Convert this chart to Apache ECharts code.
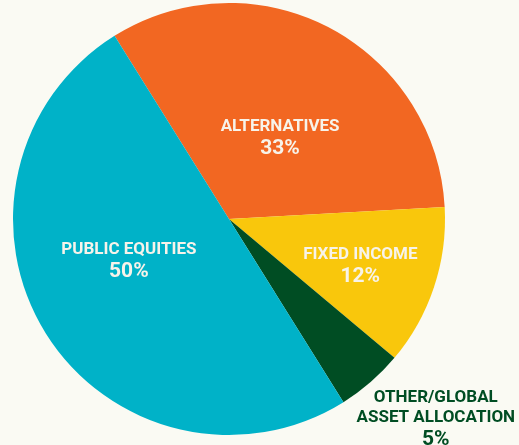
<!DOCTYPE html>
<html>
<head>
<meta charset="utf-8">
<script src="https://cdn.jsdelivr.net/npm/echarts@6/dist/echarts.min.js"></script>
<style>
html,body{margin:0;padding:0;background:#FAFAF3;}
#chart{width:519px;height:445px;}
</style>
</head>
<body>
<div id="chart"></div>
<script>
var categories = ['ALTERNATIVES', 'FIXED INCOME', 'OTHER/GLOBAL\nASSET ALLOCATION', 'PUBLIC EQUITIES'];
var values = [33, 12, 5, 50];
var colors = ['#F26722', '#F9C70C', '#004D23', '#00B2C8'];

var labelColors = ['#F7F3EA', '#F7F3EA', '#004D23', '#F7F3EA'];
var labelShift = [[0, 18], [26, 13], [134, 117], [-6, -16]];

var chart = echarts.init(document.getElementById('chart'));
var data = categories.map(function (c, i) {
  var nameLines = c.split('\n').map(function (l) { return '{n' + i + '|' + l + '}'; }).join('\n');
  var rich = {};
  rich['n' + i] = { fontSize: 17, fontWeight: 'bold', lineHeight: 20, color: labelColors[i], fontFamily: 'Roboto' };
  rich['p' + i] = { fontSize: 21, fontWeight: 'bold', lineHeight: 24, color: labelColors[i], fontFamily: 'Roboto' };
  return {
    name: c,
    value: values[i],
    itemStyle: { color: colors[i] },
    label: {
      formatter: nameLines + '\n{p' + i + '|' + values[i] + '%}',
      rich: rich
    }
  };
});

chart.setOption({
  backgroundColor: '#FAFAF3',
  animation: false,
  series: [{
    type: 'pie',
    center: [229, 219],
    radius: 216,
    startAngle: 122,
    clockwise: true,
    data: data,
    label: {
      show: true,
      position: 'inside',
      align: 'center'
    },
    labelLine: { show: false },
    itemStyle: { borderWidth: 0 },
    emphasis: { disabled: true },
    labelLayout: function (p) {
      var s = labelShift[p.dataIndex];
      return { dx: s[0], dy: s[1] };
    }
  }]
});
</script>
</body>
</html>
